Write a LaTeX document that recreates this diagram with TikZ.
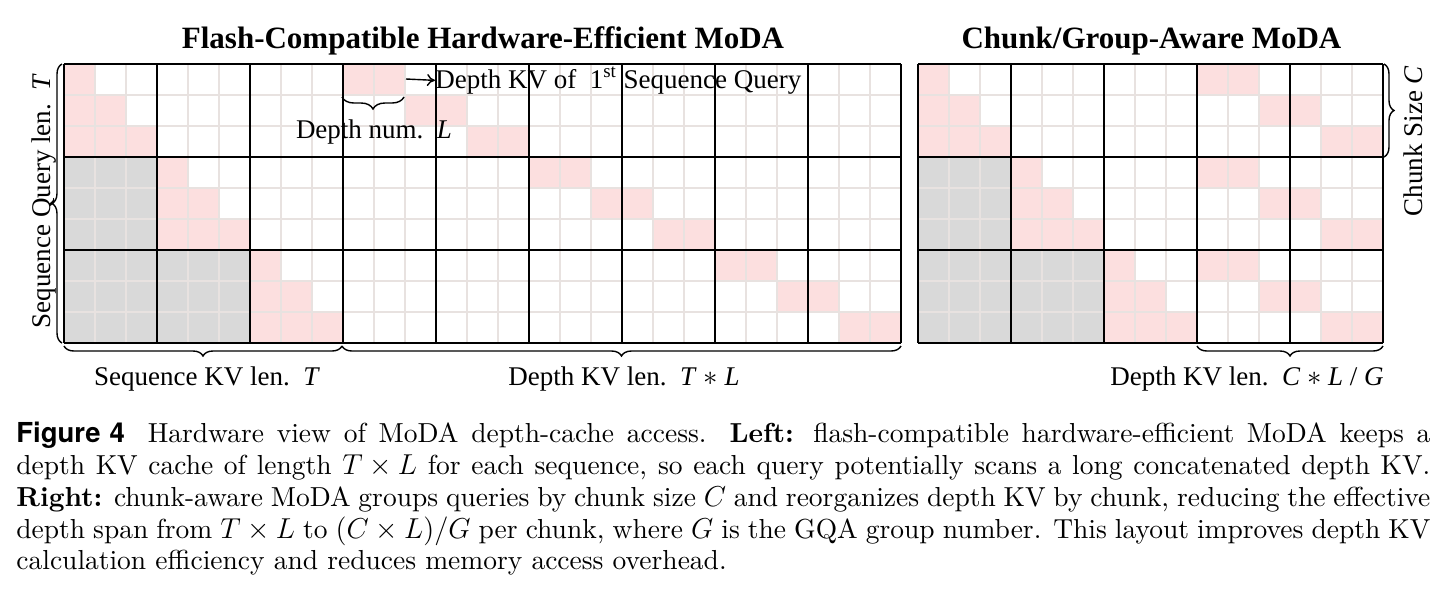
\documentclass[tikz,border=0pt]{standalone}
\usepackage{fontspec}
\setmainfont{Liberation Serif}
\newfontfamily\capfont{lmroman10-regular.otf}[BoldFont=lmroman10-bold.otf,ItalicFont=lmroman10-italic.otf,WordSpace={1,2,1.9}]
\newfontfamily\figfont{TeX Gyre Heros}
\usetikzlibrary{decorations.pathreplacing,arrows.meta}
\definecolor{cellpink}{RGB}{252,223,223}
\definecolor{cellgray}{RGB}{217,217,217}
\definecolor{gridlight}{RGB}{232,226,224}
\newcommand{\tx}[2]{#1\mskip4mu{\times}\mskip4mu#2}
\newcommand{\capline}[1]{\makebox[707pt][s]{\spaceskip=0pt\xspaceskip=0pt\relax #1}}
\begin{document}
\begin{tikzpicture}[x=0.5pt,y=-0.5pt,
  brc/.style={decorate,decoration={brace,amplitude=#1},line width=0.7pt},
  lbl/.style={font=\fontsize{13.5pt}{16pt}\selectfont,inner sep=0pt},
  ttl/.style={font=\fontsize{15.5pt}{18pt}\selectfont\bfseries,inner sep=0pt},
  thingrid/.style={gridlight,line width=1pt},
  thickgrid/.style={black,line width=0.9pt},
  capstyle/.style={font=\capfont\fontsize{13.75pt}{15.875pt}\selectfont,inner sep=0pt,text width=707pt,align=left}]
\useasboundingbox (0,0) rectangle (1447,596);
% ---------- fills ----------
\foreach \gx in {64,918}{
  \foreach \b in {0,1,2}{
    \foreach \i in {0,1,2}{
      \foreach \j in {0,...,\i}{
        \fill[cellpink] ({\gx+31*(3*\b+\j)},{64+31*(3*\b+\i)}) rectangle ++(31,31);
      }
    }
  }
  \fill[cellgray] (\gx,157) rectangle ++(93,93);
  \fill[cellgray] (\gx,250) rectangle ++(186,93);
}
\foreach \r in {0,...,8}{
  \fill[cellpink] ({64+31*(9+2*\r)},{64+31*\r}) rectangle ++(62,31);
  \pgfmathtruncatemacro\ii{mod(\r,3)}
  \fill[cellpink] ({918+31*(9+2*\ii)},{64+31*\r}) rectangle ++(62,31);
}
% ---------- light grid ----------
\foreach \k in {0,...,27} \draw[thingrid] ({64+31*\k},64) -- ({64+31*\k},343);
\foreach \k in {0,...,15} \draw[thingrid] ({918+31*\k},64) -- ({918+31*\k},343);
\foreach \k in {0,...,9} {
  \draw[thingrid] (64,{64+31*\k}) -- (901,{64+31*\k});
  \draw[thingrid] (918,{64+31*\k}) -- (1383,{64+31*\k});
}
% ---------- thick grid ----------
\foreach \k in {0,3,...,27} \draw[thickgrid] ({64+31*\k},64) -- ({64+31*\k},343);
\foreach \k in {0,3,...,15} \draw[thickgrid] ({918+31*\k},64) -- ({918+31*\k},343);
\foreach \k in {0,3,6,9} {
  \draw[thickgrid] (64,{64+31*\k}) -- (901,{64+31*\k});
  \draw[thickgrid] (918,{64+31*\k}) -- (1383,{64+31*\k});
}
% ---------- titles ----------
\node[ttl,anchor=base] (t1) at (483,48) {Flash-Compatible Hardware-Efficient MoDA};
\node[ttl,anchor=base] (t2) at (1151.5,48) {Chunk/Group-Aware MoDA};
% ---------- braces ----------
\coordinate (qb1) at (62,343); \coordinate (qb2) at (62,64);
\draw[brc=5pt] (qb1) -- (qb2);
\coordinate (sk1) at (342,346); \coordinate (sk2) at (64,346);
\draw[brc=5pt] (sk1) -- (sk2);
\coordinate (dk1) at (901,346); \coordinate (dk2) at (342,346);
\draw[brc=5pt] (dk1) -- (dk2);
\coordinate (dn1) at (404,97); \coordinate (dn2) at (342,97);
\draw[brc=6pt] (dn1) -- (dn2);
\coordinate (cs1) at (1384,64); \coordinate (cs2) at (1384,157);
\draw[brc=5pt] (cs1) -- (cs2);
\coordinate (rk1) at (1383,346); \coordinate (rk2) at (1197,346);
\draw[brc=5pt] (rk1) -- (rk2);
% ---------- labels ----------
\node[lbl,anchor=base,rotate=90] (lq) at (50,201) {Sequence Query len.~~\textit{T}};
\node[lbl,anchor=base] (lsk) at (207,385) {Sequence KV len.~~\textit{T}};
\node[lbl,anchor=base] (ldk) at (624,385) {Depth KV len.~~\textit{T}~$\ast$~\textit{L}};
\node[lbl,anchor=base] (lrk) at (1247,385) {Depth KV len.~~\textit{C}~$\ast$~\textit{L}~/~\textit{G}};
\node[lbl,anchor=base] (ldn) at (374,138) {Depth num.~~\textit{L}};
\node[lbl,anchor=base,rotate=90] (lcs) at (1422,141) {Chunk Size \textit{C}};
\node[lbl,anchor=base west] (lfq) at (435,88) {Depth KV of~~1\textsuperscript{st} Sequence Query};
\coordinate (arr) at (406,79);
\draw[-{To[length=4pt,width=6pt]},line width=0.7pt] (arr) -- (lfq.west);
% ---------- caption ----------
\node[capstyle,anchor=north west] (cap) at (16,422) {%
\capline{{\figfont\bfseries Figure 4}\hspace{5pt} Hardware view of MoDA depth-cache access. \textbf{Left:} flash-compatible hardware-efficient MoDA keeps a}\\
\capline{depth KV cache of length $\tx{T}{L}$ for each sequence, so each query potentially scans a long concatenated depth KV.}\\
\capline{\textbf{Right:} chunk-aware MoDA groups queries by chunk size $C$ and reorganizes depth KV by chunk, reducing the effective}\\
\capline{depth span from $\tx{T}{L}$ to $(\tx{C}{L})/G$ per chunk, where $G$ is the GQA group number. This layout improves depth KV}\\
calculation efficiency and reduces memory access overhead.};
\end{tikzpicture}
\end{document}
